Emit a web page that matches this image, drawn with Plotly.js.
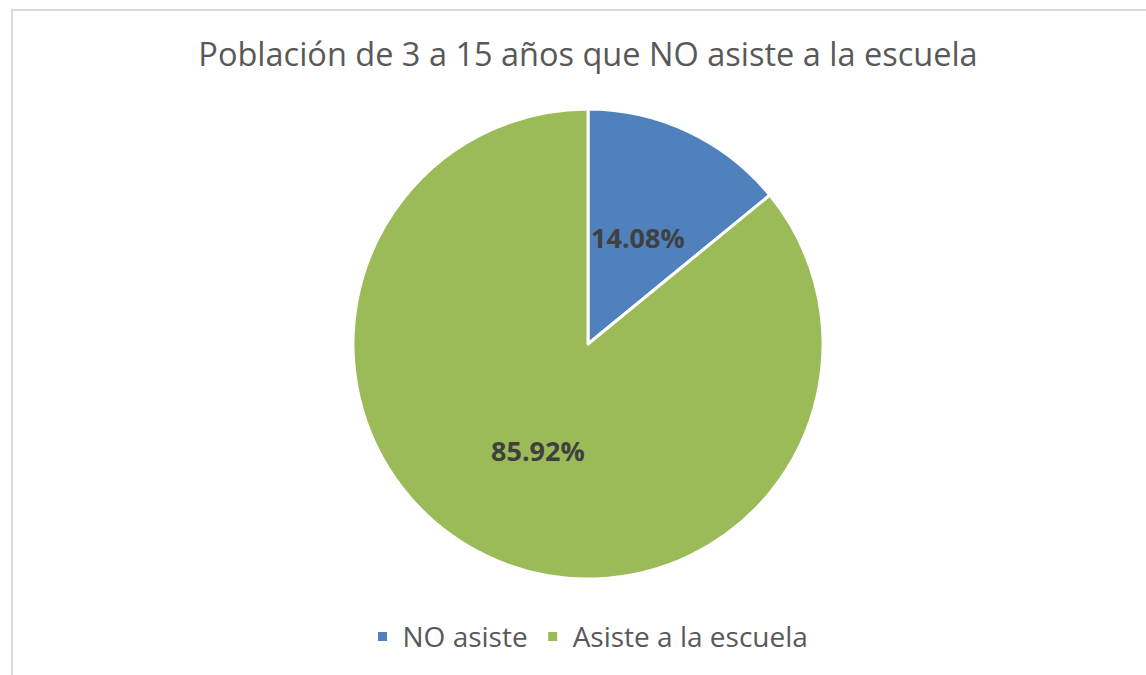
<!DOCTYPE html>
<html>
<head>
<meta charset="utf-8">
<script src="https://cdn.plot.ly/plotly-3.0.1.min.js"></script>
<style>
  html, body { margin: 0; padding: 0; background: #fff; }
  #wrap { position: relative; width: 1146px; height: 675px; overflow: hidden; }
  #chart { width: 1146px; height: 675px; }
  #frame { position: absolute; left: 11px; top: 9px; width: 1200px; height: 700px;
           border-left: 2px solid #d9d9d9; border-top: 2px solid #d9d9d9; pointer-events: none; }
</style>
</head>
<body>
<div id="wrap">
  <div id="chart"></div>
  <div id="frame"></div>
</div>
<script>
const categories = ["NO asiste", "Asiste a la escuela"];
const values = [14.08, 85.92];
const colors = ["#4F81BD", "#9BBB59"];
const titleText = "Población de 3 a 15 años que NO asiste a la escuela";

const FONT = "'Open Sans', 'Noto Sans', sans-serif";

const trace = {
  type: "pie",
  labels: categories,
  values: values,
  sort: false,
  direction: "clockwise",
  rotation: 0,
  marker: { colors: colors, line: { color: "#ffffff", width: 3 } },
  textinfo: "none",
  hoverinfo: "label+value"
};

// data labels at slice mid-angle, half radius (as in the original chart)
const total = values.reduce((a, b) => a + b, 0);
let cum = 0;
const annotations = values.map((v) => {
  const mid = (cum + v / 2) / total * 2 * Math.PI;
  cum += v;
  const r = 0.5 * 0.5;
  return {
    xref: "paper", yref: "paper",
    x: 0.5 + r * Math.sin(mid),
    y: 0.5 + r * Math.cos(mid),
    text: v.toFixed(2) + "%",
    showarrow: false,
    xanchor: "center", yanchor: "middle",
    font: { family: FONT, size: 27, color: "#404040", weight: "bold" }
  };
});

const layout = {
  width: 1146, height: 675,
  paper_bgcolor: "#ffffff",
  margin: { l: 353, r: 323, t: 109, b: 96 },
  title: {
    text: titleText,
    font: { family: FONT, size: 32.5, color: "#595959" },
    x: 0.5, xanchor: "center", xref: "paper",
    y: 1 - 55/675, yanchor: "middle", yref: "container"
  },
  showlegend: true,
  legend: {
    orientation: "h",
    x: 0.5, xanchor: "center",
    y: -0.123, yanchor: "middle",
    font: { family: FONT, size: 28, color: "#595959" },
    itemwidth: 30,
    traceorder: "normal"
  },
  annotations: annotations,
  font: { family: FONT }
};

Plotly.newPlot("chart", [trace], layout, { displayModeBar: false, staticPlot: true });
</script>
</body>
</html>
